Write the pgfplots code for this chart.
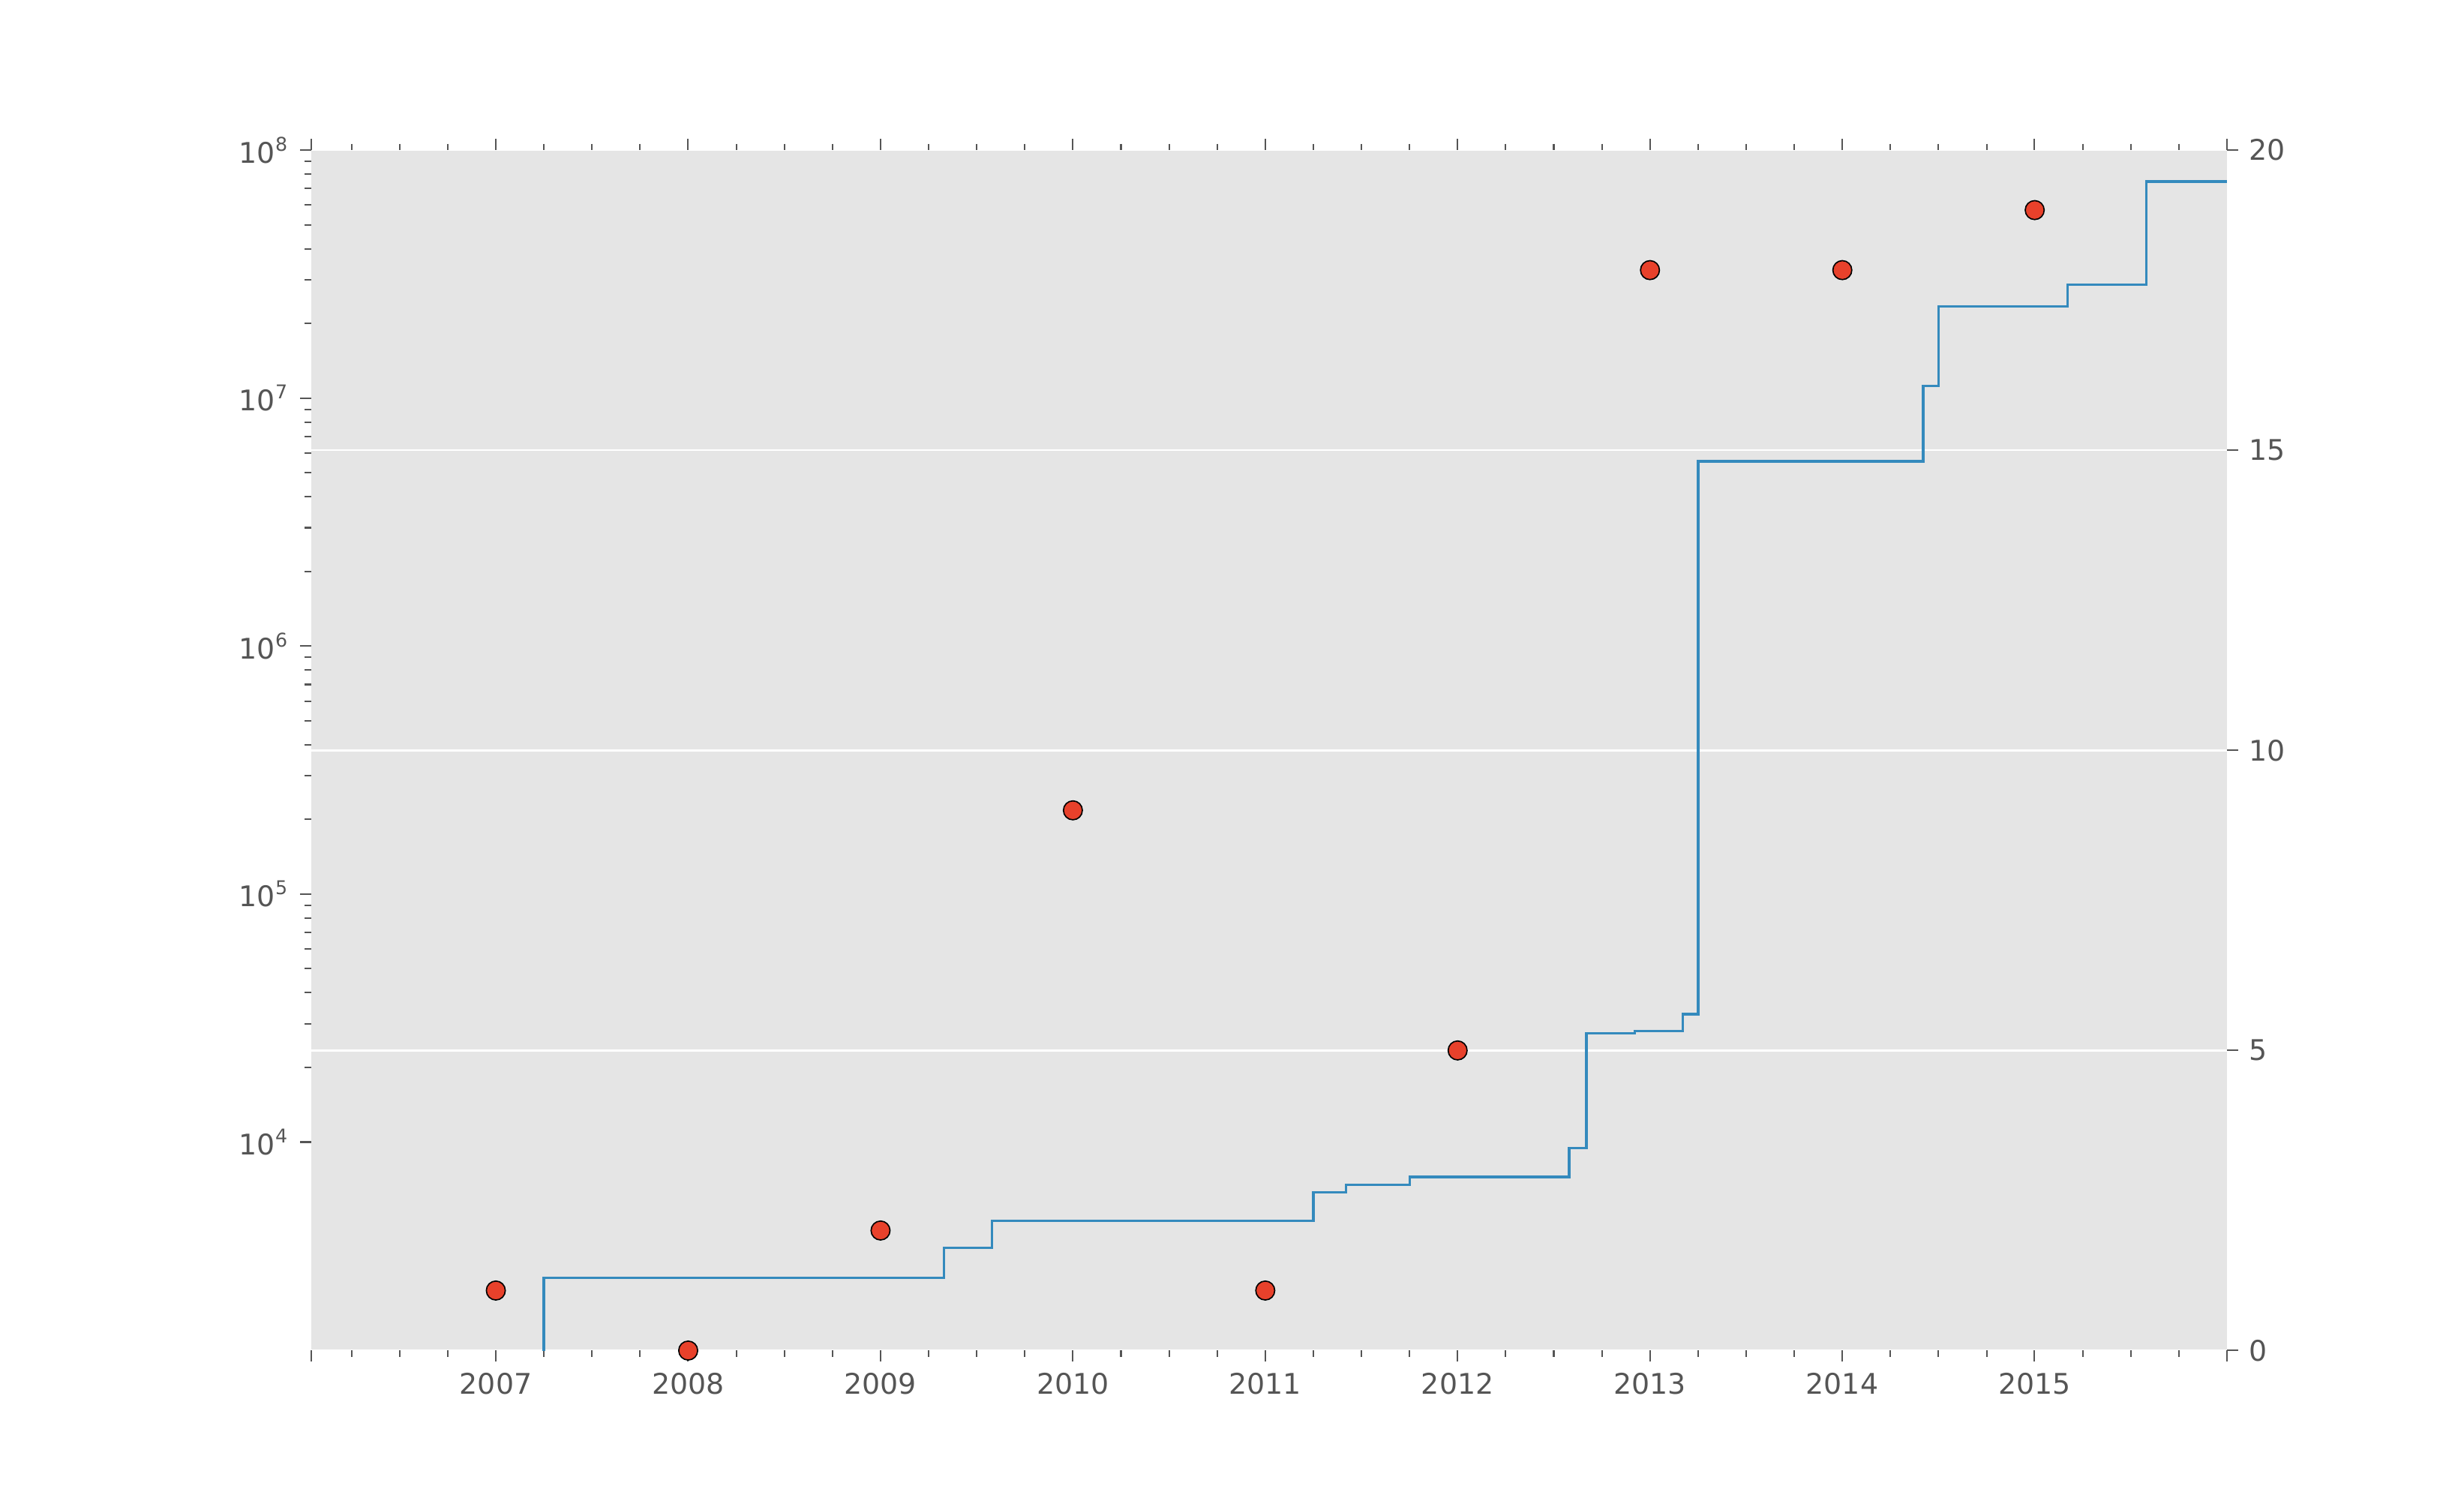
\documentclass[border=0pt]{standalone}
\usepackage{fontspec}
\setmainfont{DejaVu Sans}
\usepackage{pgfplots}
\pgfplotsset{compat=1.18}
\definecolor{bg}{HTML}{E5E5E5}
\definecolor{lblue}{HTML}{348ABD}
\definecolor{pred}{HTML}{E8412B}
\definecolor{tk}{HTML}{555555}
\begin{document}
\begin{tikzpicture}
\path[use as bounding box] (-98.5pt,-47.5pt) rectangle (681.5pt,427.5pt);
\pgfplotsset{every axis/.append style={
  scale only axis, width=606.5pt, height=380pt, at={(0,0)}, anchor=south west,
  xmin=2006.04, xmax=2016.0,
  axis line style={draw=none},
  tick align=outside,
  major tick length=3.5pt, minor tick length=2pt,
  every tick/.style={tk, line width=0.5pt},
  tick label style={font=\fontsize{9}{10}\selectfont, text=tk},
  /pgf/number format/assume math mode=true,
}}
\begin{axis}[
  axis background/.style={fill=bg},
  ymin=0, ymax=20, ytick={0,5,10,15,20},
  ytick pos=right, yticklabel pos=right,
  ymajorgrids, grid style={white, line width=0.6pt},
  xtick={2007,...,2015},
  minor xtick={2006.25,2006.5,2006.75,2007.25,2007.5,2007.75,2008.25,2008.5,2008.75,2009.25,2009.5,2009.75,2010.25,2010.5,2010.75,2011.25,2011.5,2011.75,2012.25,2012.5,2012.75,2013.25,2013.5,2013.75,2014.25,2014.5,2014.75,2015.25,2015.5,2015.75},
  extra x ticks={2006.04,2016.0}, extra x tick labels={},
  extra x tick style={major tick length=3.5pt},
  xtick pos=both, xticklabel pos=bottom,
  xticklabels={2007,2008,2009,2010,2011,2012,2013,2014,2015},
  clip=false,
]
\addplot[only marks, mark=*, mark size=3pt, mark options={fill=pred, draw=black, line width=0.4pt}]
 coordinates {(2007,1)(2008,0)(2009,2)(2010,9)(2011,1)(2012,5)(2013,18)(2014,18)(2015,19)};
\end{axis}
\begin{axis}[
  ymode=log, ymin=1443, ymax=1e8,
  ytick={1e4,1e5,1e6,1e7,1e8},
  yticklabels={10\textsuperscript{4},10\textsuperscript{5},10\textsuperscript{6},10\textsuperscript{7},10\textsuperscript{8}},
  ytick pos=left, yticklabel pos=left,
  xtick=\empty,
]
\addplot[const plot, lblue, line width=0.8pt] coordinates {
(2007.0,100)(2007.25,2830)(2009.33,3740)(2009.58,4810)(2011.25,6260)(2011.42,6730)
(2011.75,7240)(2012.58,9440)(2012.67,27500)(2012.92,28000)(2013.17,32800)
(2013.25,5.56e6)(2014.42,1.12e7)(2014.5,2.34e7)(2015.17,2.87e7)(2015.58,7.47e7)(2016.0,7.47e7)};
\end{axis}
\end{tikzpicture}
\end{document}
